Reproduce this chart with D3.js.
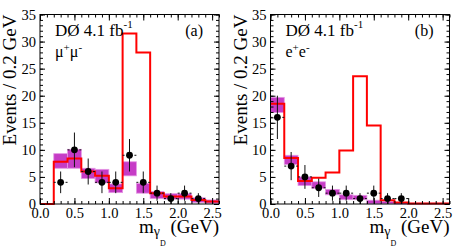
<!DOCTYPE html>
<html>
<head>
<meta charset="utf-8">
<script src="https://cdn.jsdelivr.net/npm/d3@7"></script>
<style>
  body { margin: 0; background: #fff; }
  svg text { font-family: "Liberation Serif", "Times New Roman", serif; fill: #000; }
</style>
</head>
<body>
<script>
// bin edges (GeV), 0.2 GeV bins
const binEdges = [0, 0.2, 0.4, 0.6, 0.8, 1.0, 1.2, 1.4, 1.6, 1.8, 2.0, 2.2, 2.4, 2.6];

// (a) mu+mu-
const muSignal = [0, 7.8, 8.4, 6.0, 5.2, 2.9, 31.5, 28.0, 2.0, 1.4, 1.4, 0.75, 0.45];
const muBandLo = [null, 6.6, 6.6, 4.7, 3.9, 2.1, 5.2, 2.0, 1.0, 0.9, 0.9, 0.3, 0.15];
const muBandHi = [null, 9.3, 10.1, 6.6, 6.4, 3.7, 7.8, 3.8, 2.3, 1.9, 1.9, 1.15, 0.75];
const muDataX = [0.3, 0.5, 0.7, 0.9, 1.1, 1.3, 1.5, 1.7, 1.9, 2.1, 2.3];
const muDataY = [4, 10, 6, 4, 4, 9, 4, 2, 1, 2, 1];
const muDataErr = [2, 3.2, 2.4, 2, 2, 3, 2, 1.4, 1, 1.4, 1];

// (b) e+e-
const eeSignal = [18.5, 8.5, 4.25, 4.85, 5.8, 9.9, 23.6, 14.5, 0.7, 0.3, 0.1, 0.1, 0.1];
const eeBandLo = [16.9, 7.3, 3.4, 2.9, 1.7, 0.8, 0.8, 0.05, 0.05, 0, 0, 0, 0];
const eeBandHi = [19.7, 9.0, 5.0, 4.1, 2.7, 1.7, 1.6, 0.7, 0.45, 0.25, 0.15, 0.15, 0.15];
const eeDataX = [0.1, 0.3, 0.5, 0.7, 0.9, 1.1, 1.3, 1.5, 1.7, 1.9];
const eeDataY = [16, 7, 5, 3, 2, 2, 1, 2, 1, 1];
const eeDataErr = [4, 2.6, 2.2, 1.7, 1.4, 1.4, 1, 1.4, 1, 1];

const xMajor = [0, 0.5, 1, 1.5, 2, 2.5];
const xMinor = d3.range(0, 27).map(i => i / 10);
const yMajor = [0, 5, 10, 15, 20, 25, 30, 35];
const yMinor = d3.range(0, 36);

const W = 463, H = 248;
const svg = d3.select('body').append('svg')
  .attr('width', W)
  .attr('height', H);

function drawPanel(left, cfg) {
  const right = left + 179;
  const top = 14.5, bottom = 204;
  const x = d3.scaleLinear().domain([0, 2.6]).range([left, right]);
  const y = d3.scaleLinear().domain([0, 35]).range([bottom, top]);
  const g = svg.append('g');

  // background band with uncertainty
  const bins = d3.range(binEdges.length - 1);
  g.append('g').selectAll('rect')
    .data(bins.filter(i => cfg.bandLo[i] !== null))
    .enter().append('rect')
    .attr('x', i => x(binEdges[i]))
    .attr('width', i => x(binEdges[i + 1]) - x(binEdges[i]))
    .attr('y', i => y(cfg.bandHi[i]))
    .attr('height', i => y(cfg.bandLo[i]) - y(cfg.bandHi[i]))
    .attr('fill', '#c63cc6')
    .attr('stroke', '#e497e4')
    .attr('stroke-width', 0.8);

  // red histogram
  let pts = [];
  bins.forEach(i => {
    pts.push([x(binEdges[i]), y(cfg.signal[i])]);
    pts.push([x(binEdges[i + 1]), y(cfg.signal[i])]);
  });
  g.append('path')
    .attr('d', d3.line()(pts))
    .attr('fill', 'none')
    .attr('stroke', '#ff0000')
    .attr('stroke-width', 2);

  // data points
  const r = 3.4;
  const pg = g.append('g');
  cfg.dataX.forEach((dx, i) => {
    const cx = x(dx), cy = y(cfg.dataY[i]);
    const err = cfg.dataErr[i];
    pg.append('line')
      .attr('x1', cx).attr('x2', cx)
      .attr('y1', y(Math.max(0, cfg.dataY[i] - err))).attr('y2', y(cfg.dataY[i] + err))
      .attr('stroke', '#111').attr('stroke-width', 1);
    pg.append('line')
      .attr('x1', x(dx - 0.1)).attr('x2', cx - r - 1.5)
      .attr('y1', cy).attr('y2', cy)
      .attr('stroke', '#111').attr('stroke-width', 1)
      .attr('stroke-dasharray', '3,2');
    pg.append('line')
      .attr('x1', cx + r + 1.5).attr('x2', x(dx + 0.1))
      .attr('y1', cy).attr('y2', cy)
      .attr('stroke', '#111').attr('stroke-width', 1)
      .attr('stroke-dasharray', '3,2');
    pg.append('circle')
      .attr('cx', cx).attr('cy', cy).attr('r', r)
      .attr('fill', '#000');
  });

  // axes with inward ticks
  function ax(gen, tr, vals, size, labels) {
    const a = gen.tickValues(vals).tickSizeInner(-size).tickSizeOuter(0);
    const s = g.append('g').attr('transform', tr).call(a);
    s.select('.domain').remove();
    s.selectAll('line').attr('stroke', '#000');
    if (!labels) s.selectAll('text').remove();
    return s;
  }
  ax(d3.axisBottom(x), `translate(0,${bottom})`, xMinor, 3, false);
  const xa = ax(d3.axisBottom(x).tickPadding(4), `translate(0,${bottom})`, xMajor, 6, true);
  xa.selectAll('text').attr('font-size', 14.5).attr('dy', '0.7em');
  ax(d3.axisTop(x), `translate(0,${top})`, xMinor, 3, false);
  ax(d3.axisTop(x), `translate(0,${top})`, xMajor, 6, false);
  ax(d3.axisLeft(y), `translate(${left},0)`, yMinor, 3, false);
  const ya = ax(d3.axisLeft(y).tickPadding(4), `translate(${left},0)`, yMajor, 5, true);
  ya.selectAll('text').attr('font-size', 14.5);
  ax(d3.axisRight(y), `translate(${right},0)`, yMinor, 3, false);
  ax(d3.axisRight(y), `translate(${right},0)`, yMajor, 5, false);

  // frame
  g.append('rect')
    .attr('x', left).attr('y', top)
    .attr('width', right - left).attr('height', bottom - top)
    .attr('fill', 'none').attr('stroke', '#000').attr('stroke-width', 1);

  // y title
  g.append('text')
    .attr('transform', `translate(${left - 24},${top}) rotate(-90)`)
    .attr('text-anchor', 'end')
    .attr('font-size', 19)
    .text('Events / 0.2 GeV');

  // x title
  const xt = g.append('text')
    .attr('x', right).attr('y', 233)
    .attr('text-anchor', 'end')
    .attr('font-size', 19);
  xt.append('tspan').text('m');
  xt.append('tspan').attr('font-size', 14).attr('dy', 3).text('γ');
  xt.append('tspan').attr('font-size', 8).attr('dy', 10).text('D');
  xt.append('tspan').attr('dy', -13).text(' (GeV)');

  // labels
  const lab = g.append('text')
    .attr('x', left + 15).attr('y', 36)
    .attr('font-size', 17);
  lab.append('tspan').text('DØ 4.1 fb');
  lab.append('tspan').attr('font-size', 11).attr('dy', -8).text('-1');

  g.append('text')
    .attr('x', right - 16).attr('y', 36)
    .attr('text-anchor', 'end')
    .attr('font-size', 16)
    .text(cfg.tag);

  const ch = g.append('text')
    .attr('x', left + 15).attr('y', 57)
    .attr('font-size', 16);
  ch.append('tspan').text(cfg.lep);
  ch.append('tspan').attr('font-size', 11).attr('dy', -6).text('+');
  ch.append('tspan').attr('dy', 6).text(cfg.lep);
  ch.append('tspan').attr('font-size', 11).attr('dy', -6).text('-');
}

drawPanel(40, {
  signal: muSignal, bandLo: muBandLo, bandHi: muBandHi,
  dataX: muDataX, dataY: muDataY, dataErr: muDataErr,
  tag: '(a)', lep: 'μ'
});
drawPanel(270.5, {
  signal: eeSignal, bandLo: eeBandLo, bandHi: eeBandHi,
  dataX: eeDataX, dataY: eeDataY, dataErr: eeDataErr,
  tag: '(b)', lep: 'e'
});
</script>
</body>
</html>
